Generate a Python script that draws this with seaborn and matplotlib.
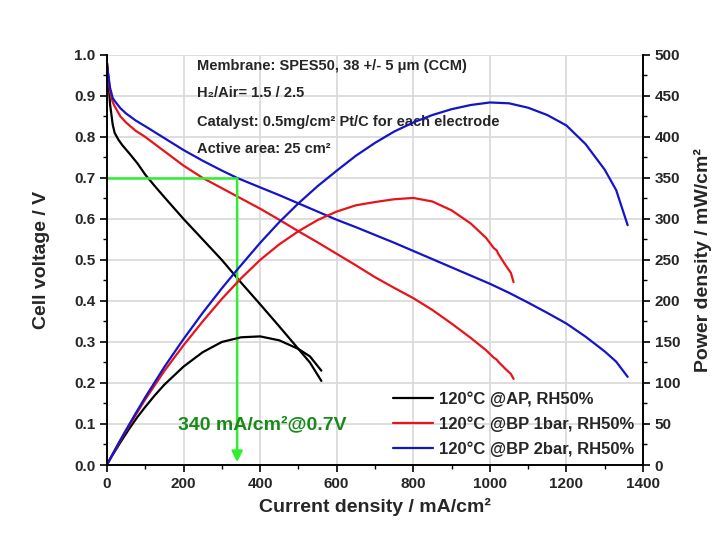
# Fuel cell polarization + power density curves (SPES50 membrane)
import pandas as pd
import matplotlib
matplotlib.use("Agg")
import matplotlib.pyplot as plt
import seaborn as sns

# ---- data ----
labels = ["120°C @AP, RH50%", "120°C @BP 1bar, RH50%", "120°C @BP 2bar, RH50%"]
colors = ["black", "#e8141b", "#1414c8"]

ap_current = [0, 3, 8, 15, 20, 30, 40, 60, 80, 100, 125, 150, 200, 250, 300, 350, 400, 450, 500, 530, 560]
ap_voltage = [0.98, 0.95, 0.88, 0.83, 0.81, 0.793, 0.78, 0.758, 0.735, 0.708, 0.68, 0.653, 0.60, 0.55,
              0.50, 0.445, 0.392, 0.338, 0.283, 0.25, 0.205]
ap_power = [0, 2.9, 7, 12.5, 16.2, 23.8, 31.2, 45.5, 58.8, 70.8, 85, 98, 120, 137.5, 150, 155.7, 156.8,
            152, 141.5, 132.5, 115]

bp1_current = [0, 3, 8, 15, 20, 35, 50, 75, 100, 150, 200, 250, 300, 350, 400, 450, 500, 550, 600, 650,
               700, 750, 800, 850, 900, 950, 990, 1010, 1018, 1022, 1040, 1055, 1062]
bp1_voltage = [0.98, 0.95, 0.91, 0.885, 0.875, 0.85, 0.835, 0.815, 0.80, 0.765, 0.73, 0.70, 0.675, 0.65,
               0.625, 0.598, 0.57, 0.543, 0.515, 0.487, 0.458, 0.432, 0.407, 0.378, 0.345, 0.31, 0.28,
               0.262, 0.257, 0.252, 0.235, 0.222, 0.21]
bp1_power = [0, 2.9, 7.3, 13.3, 17.5, 29.8, 41.8, 61.1, 80, 114.8, 146, 175, 202.5, 227.5, 250, 269, 285,
             298.6, 309, 316.6, 320.6, 324, 325.6, 321.3, 310.5, 294.5, 277, 264.6, 261.6, 257.5, 244.4,
             234.2, 223]

bp2_current = [0, 3, 8, 15, 20, 35, 50, 75, 100, 150, 200, 250, 300, 340, 400, 450, 500, 550, 600, 650,
               700, 750, 800, 850, 900, 950, 1000, 1050, 1100, 1150, 1200, 1250, 1300, 1330, 1360]
bp2_voltage = [0.98, 0.955, 0.92, 0.895, 0.888, 0.87, 0.857, 0.84, 0.826, 0.797, 0.768, 0.742, 0.718, 0.70,
               0.677, 0.658, 0.638, 0.618, 0.598, 0.58, 0.561, 0.542, 0.522, 0.502, 0.482, 0.462, 0.442,
               0.42, 0.396, 0.371, 0.345, 0.313, 0.277, 0.252, 0.215]
bp2_power = [0, 2.9, 7.4, 13.4, 17.8, 30.5, 42.9, 63, 82.6, 119.6, 153.6, 185.5, 215.4, 238, 270.8, 296.1,
             319, 339.9, 358.8, 377, 392.7, 406.5, 417.6, 426.7, 433.8, 438.9, 442, 441, 435.6, 426.7,
             414, 391.3, 360.1, 335.2, 292.4]

mark_current = 340
mark_voltage = 0.7

frames = []
for lab, cur, volt, pw in [(labels[0], ap_current, ap_voltage, ap_power),
                           (labels[1], bp1_current, bp1_voltage, bp1_power),
                           (labels[2], bp2_current, bp2_voltage, bp2_power)]:
    frames.append(pd.DataFrame({"current": cur, "voltage": volt, "power": pw, "condition": lab}))
df = pd.concat(frames, ignore_index=True)

# ---- style ----
sns.set_theme(style="white")
plt.rcParams["font.family"] = ["Liberation Sans", "DejaVu Sans"]
plt.rcParams["font.weight"] = "bold"
plt.rcParams["axes.labelweight"] = "bold"

fig = plt.figure(figsize=(7.16, 5.49), dpi=100)
ax = fig.add_axes([0.1494, 0.153, 0.7486, 0.747])
ax2 = ax.twinx()

palette = dict(zip(labels, colors))

sns.lineplot(data=df, x="current", y="voltage", hue="condition", palette=palette,
             estimator=None, sort=False, lw=1.6, ax=ax, legend=False)
sns.lineplot(data=df, x="current", y="power", hue="condition", palette=palette,
             estimator=None, sort=False, lw=1.6, ax=ax2, legend=False)

# green marker lines at 0.7 V
green = "#2ef02e"
ax.plot([0, mark_current], [mark_voltage, mark_voltage], color=green, lw=1.8)
ax.annotate("", xy=(mark_current, 0), xytext=(mark_current, mark_voltage),
            arrowprops=dict(arrowstyle="-|>", color=green, lw=1.8, mutation_scale=16))
ax.text(185, 0.098, "340 mA/cm²@0.7V", color="#188a18", fontsize=14, fontweight="bold",
        va="center", ha="left")

# axes
ax.set_xlim(0, 1400)
ax.set_ylim(0, 1.0)
ax2.set_ylim(0, 500)
ax.set_xticks(range(0, 1401, 200))
ax.set_xticks(range(0, 1401, 100), minor=True)
ax.set_yticks([i / 10 for i in range(11)])
ax.set_yticks([i / 20 for i in range(21)], minor=True)
ax2.set_yticks(range(0, 501, 50))
ax2.set_yticks(range(0, 501, 25), minor=True)
ax.set_yticklabels([f"{i / 10:.1f}" for i in range(11)])

ax.grid(True, which="major", color="#d8d8d8", lw=1.2)
ax.set_axisbelow(True)
ax2.grid(False)

for a in (ax, ax2):
    a.tick_params(which="major", direction="out", length=5, width=1.2, labelsize=11, color="black")
    a.tick_params(which="minor", direction="out", length=3, width=1.0, color="black")
    a.spines["top"].set_visible(False)
    for s in ("left", "right", "bottom"):
        a.spines[s].set_color("black")
        a.spines[s].set_linewidth(1.2)
ax.tick_params(axis="x", which="both", bottom=True)
ax.tick_params(axis="y", which="both", left=True, right=False)
ax2.tick_params(axis="y", which="both", right=True)
for lab in ax.get_xticklabels() + ax.get_yticklabels() + ax2.get_yticklabels():
    lab.set_fontweight("bold")

ax.set_xlabel("Current density / mA/cm²", fontsize=14, fontweight="bold", labelpad=5)
ax.set_ylabel("Cell voltage / V", fontsize=14, fontweight="bold", labelpad=17)
ax2.set_ylabel("Power density / mW/cm²", fontsize=14, fontweight="bold", labelpad=10)

# info text
info = ["Membrane: SPES50, 38 +/- 5 μm (CCM)",
        "H₂/Air= 1.5 / 2.5",
        "Catalyst: 0.5mg/cm² Pt/C for each electrode",
        "Active area: 25 cm²"]
for txt, yv in zip(info, [0.973, 0.907, 0.837, 0.771]):
    ax.text(235, yv, txt, fontsize=10.5, fontweight="bold", va="center", ha="left")

# legend
handles = [plt.Line2D([], [], color=c, lw=1.6) for c in colors]
ax2.legend(handles, labels, loc="lower right", frameon=False,
           handlelength=2.4, handletextpad=0.4, labelspacing=0.55, borderaxespad=0.1,
           prop={"weight": "bold", "size": 12})

fig.savefig("out.png", dpi=100)
